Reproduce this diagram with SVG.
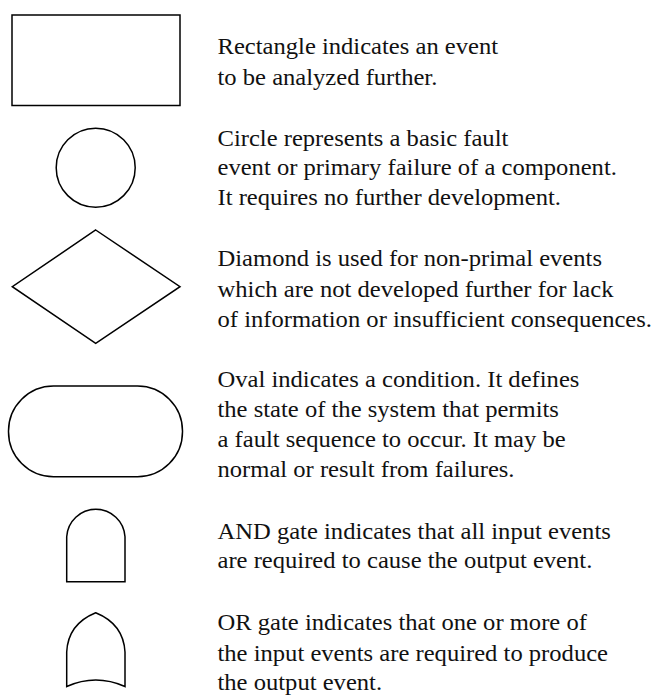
<svg xmlns="http://www.w3.org/2000/svg" width="658" height="695" viewBox="0 0 658 695">
  <style>
    .shape { fill: #ffffff; stroke: #000000; stroke-width: 1.5; }
    .desc { font-family: "Liberation Serif", "Times New Roman", serif; font-size: 23px; fill: #111111; }
  </style>
  <rect width="658" height="695" fill="#ffffff"/>

  <!-- Event symbols -->
  <g id="rectangle">
    <rect class="shape" x="12" y="15" width="168" height="90.5"/>
  </g>
  <g id="circle">
    <circle class="shape" cx="95.7" cy="167.7" r="39.5"/>
  </g>
  <g id="diamond">
    <polygon class="shape" points="95.7,230 180,286.7 95.7,343.3 12.3,286.7"/>
  </g>
  <g id="oval">
    <rect class="shape" x="8.5" y="386" width="174" height="90.7" rx="45" ry="45"/>
  </g>
  <g id="and-gate">
    <path class="shape" d="M66.7,581.7 V536.8 A29.2,29.2 0 0 1 125,536.8 V581.7 Z"/>
  </g>
  <g id="or-gate">
    <path class="shape" d="M66.7,686.5 V652 Q68,624 95.7,612.7 Q123.5,624 125,652 V686.5 Q95.7,673.5 66.7,686.5 Z"/>
  </g>

  <!-- Descriptions -->
  <g id="descriptions" class="desc" transform="translate(217.5,0) scale(1.07,1)">
    <text x="0" y="54.3">Rectangle indicates an event</text>
    <text x="0" y="85">to be analyzed further.</text>

    <text x="0" y="145.7">Circle represents a basic fault</text>
    <text x="0" y="175.3">event or primary failure of a component.</text>
    <text x="0" y="205.3">It requires no further development.</text>

    <text x="0" y="266.5">Diamond is used for non-primal events</text>
    <text x="0" y="296.7">which are not developed further for lack</text>
    <text x="0" y="326.7">of information or insufficient consequences.</text>

    <text x="0" y="386.7">Oval indicates a condition. It defines</text>
    <text x="0" y="416.7">the state of the system that permits</text>
    <text x="0" y="447">a fault sequence to occur. It may be</text>
    <text x="0" y="477.5">normal or result from failures.</text>

    <text x="0" y="539">AND gate indicates that all input events</text>
    <text x="0" y="568.5">are required to cause the output event.</text>

    <text x="0" y="630">OR gate indicates that one or more of</text>
    <text x="0" y="661">the input events are required to produce</text>
    <text x="0" y="690">the output event.</text>
  </g>
</svg>
